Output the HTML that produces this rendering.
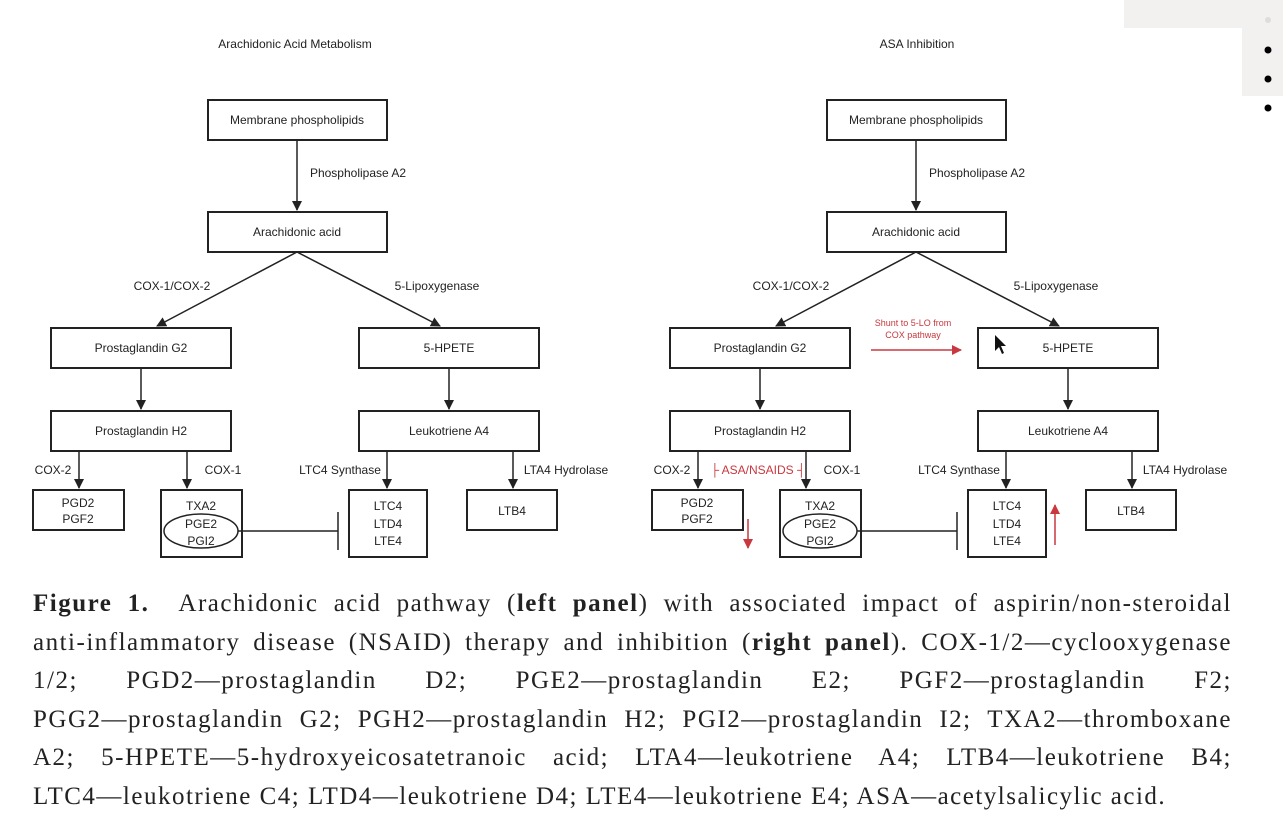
<!DOCTYPE html>
<html><head><meta charset="utf-8"><style>
body{margin:0;width:1283px;height:836px;background:#fff;overflow:hidden;position:relative;font-family:"Liberation Sans",sans-serif}
svg{position:absolute;left:0;top:0}
svg text{font-family:"Liberation Sans",sans-serif;font-size:12px;fill:#222}
.cap{position:absolute;left:33px;width:1199px;top:585px;font-family:"Liberation Serif",serif;font-size:25px;letter-spacing:1.5px;color:#222}
.cap div{text-align:justify;text-align-last:justify;height:38.6px;line-height:38.6px;white-space:nowrap}
.cap div.last{text-align-last:left}
</style></head><body>
<svg width="1283" height="836">
<defs><marker id="ah" markerWidth="10" markerHeight="10" refX="9" refY="5" orient="auto" markerUnits="userSpaceOnUse"><path d="M0,0 L10,5 L0,10 z" fill="#222"/></marker>
<marker id="ar" markerWidth="10" markerHeight="10" refX="9" refY="5" orient="auto" markerUnits="userSpaceOnUse"><path d="M0,0 L10,5 L0,10 z" fill="#c8383e"/></marker></defs>
<rect x="1124" y="0" width="159" height="28" fill="#f3f0f0"/>
<rect x="1242" y="28" width="41" height="68" fill="#f3f0f0"/>
<circle cx="1268" cy="20" r="3" fill="#ddd"/>
<circle cx="1268" cy="50" r="3.5" fill="#000"/>
<circle cx="1268" cy="79" r="3.5" fill="#000"/>
<circle cx="1268" cy="108" r="3.5" fill="#000"/>
<g id="panel" stroke="#222" stroke-width="2" fill="none">
<rect x="208" y="100" width="179" height="40"/>
<rect x="208" y="212" width="179" height="40"/>
<rect x="51" y="328" width="180" height="40"/>
<rect x="359" y="328" width="180" height="40"/>
<rect x="51" y="411" width="180" height="40"/>
<rect x="359" y="411" width="180" height="40"/>
<rect x="33" y="490" width="91" height="40"/>
<rect x="161" y="490" width="81" height="67"/>
<rect x="349" y="490" width="78" height="67"/>
<rect x="467" y="490" width="90" height="40"/>
<ellipse cx="201" cy="531" rx="37" ry="17" stroke-width="1.5"/>
<g stroke-width="1.5">
<line x1="297" y1="140" x2="297" y2="210" marker-end="url(#ah)"/>
<line x1="297" y1="252" x2="157" y2="326" marker-end="url(#ah)"/>
<line x1="297" y1="252" x2="440" y2="326" marker-end="url(#ah)"/>
<line x1="141" y1="368" x2="141" y2="409" marker-end="url(#ah)"/>
<line x1="449" y1="368" x2="449" y2="409" marker-end="url(#ah)"/>
<line x1="79" y1="451" x2="79" y2="488" marker-end="url(#ah)"/>
<line x1="187" y1="451" x2="187" y2="488" marker-end="url(#ah)"/>
<line x1="387" y1="451" x2="387" y2="488" marker-end="url(#ah)"/>
<line x1="513" y1="451" x2="513" y2="488" marker-end="url(#ah)"/>
<line x1="238" y1="531" x2="338" y2="531"/>
<line x1="338" y1="512" x2="338" y2="550"/>
</g>
<g stroke="none" fill="#222" text-anchor="middle">
<text x="297" y="124">Membrane phospholipids</text>
<text x="297" y="236">Arachidonic acid</text>
<text x="141" y="352">Prostaglandin G2</text>
<text x="449" y="352">5-HPETE</text>
<text x="141" y="435">Prostaglandin H2</text>
<text x="449" y="435">Leukotriene A4</text>
<text x="78" y="507">PGD2</text><text x="78" y="523">PGF2</text>
<text x="201" y="510">TXA2</text><text x="201" y="528">PGE2</text><text x="201" y="545">PGI2</text>
<text x="388" y="510">LTC4</text><text x="388" y="528">LTD4</text><text x="388" y="545">LTE4</text>
<text x="512" y="515">LTB4</text>
<text x="358" y="177">Phospholipase A2</text>
<text x="172" y="290">COX-1/COX-2</text>
<text x="437" y="290">5-Lipoxygenase</text>
<text x="53" y="474">COX-2</text>
<text x="223" y="474">COX-1</text>
<text x="340" y="474">LTC4 Synthase</text>
<text x="566" y="474">LTA4 Hydrolase</text>
</g>
</g>
<use href="#panel" x="619" y="0"/>
<text x="295" y="48" text-anchor="middle">Arachidonic Acid Metabolism</text>
<text x="917" y="48" text-anchor="middle">ASA Inhibition</text>
<g>
<text x="913" y="326" text-anchor="middle" style="font-size:9px;fill:#c8383e">Shunt to 5-LO from</text>
<text x="913" y="338" text-anchor="middle" style="font-size:9px;fill:#c8383e">COX pathway</text>
<line x1="871" y1="350" x2="961" y2="350" stroke="#c8383e" stroke-width="1.5" marker-end="url(#ar)"/>
<text x="758" y="474" text-anchor="middle" style="font-size:12px;fill:#c8383e">├ ASA/NSAIDS ┤</text>
<line x1="748" y1="519" x2="748" y2="548" stroke="#c8383e" stroke-width="1.5" marker-end="url(#ar)"/>
<line x1="1055" y1="545" x2="1055" y2="505" stroke="#c8383e" stroke-width="1.5" marker-end="url(#ar)"/>
<path d="M995,335 l0,16 l4,-4 l3,7 l2,-1 l-3,-7 l5,0 z" fill="#111"/>
</g>
</svg>
<div class="cap">
<div><b>Figure 1.</b>&nbsp; Arachidonic acid pathway (<b>left panel</b>) with associated impact of aspirin/non-steroidal</div>
<div>anti-inflammatory disease (NSAID) therapy and inhibition (<b>right panel</b>). COX-1/2—cyclooxygenase</div>
<div>1/2; &nbsp;&nbsp;PGD2—prostaglandin &nbsp;&nbsp;D2; &nbsp;&nbsp;PGE2—prostaglandin &nbsp;&nbsp;E2; &nbsp;&nbsp;PGF2—prostaglandin &nbsp;&nbsp;F2;</div>
<div>PGG2—prostaglandin G2; PGH2—prostaglandin H2; PGI2—prostaglandin I2; TXA2—thromboxane</div>
<div>A2; 5-HPETE—5-hydroxyeicosatetranoic acid; LTA4—leukotriene A4; LTB4—leukotriene B4;</div>
<div class="last">LTC4—leukotriene C4; LTD4—leukotriene D4; LTE4—leukotriene E4; ASA—acetylsalicylic acid.</div>
</div>
</body></html>
